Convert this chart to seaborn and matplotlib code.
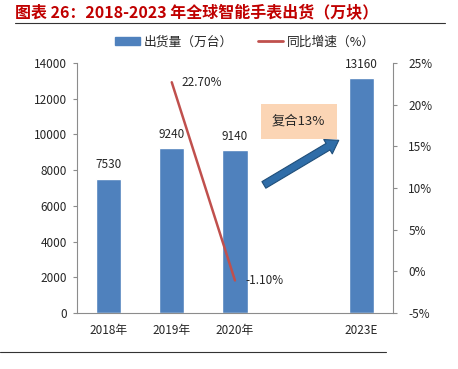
import numpy as np
import pandas as pd
import matplotlib
matplotlib.use("Agg")
import matplotlib.pyplot as plt
import seaborn as sns

categories = ["2018年", "2019年", "2020年", "", "2023E"]
shipments = [7530, 9240, 9140, np.nan, 13160]
growth_years = ["2019年", "2020年"]
growth = [22.70, -1.10]

sns.set_style("white")
plt.rcParams['font.family'] = ['Noto Sans CJK SC', 'DejaVu Sans']

blue = "#4F81BD"
red = "#C0504D"
gray = "#8C8C8C"

df = pd.DataFrame({"year": categories, "value": shipments})

fig = plt.figure(figsize=(4.58, 3.69), dpi=100)
ax = fig.add_axes([0.168, 0.152, 0.69, 0.677])

sns.barplot(data=df, x="year", y="value", order=categories, color=blue,
            width=0.4, saturation=1, ax=ax)
ax.set_xlim(-0.5, 4.5)
ax.set_ylim(0, 14000)
ax.set_yticks(range(0, 14001, 2000))
ax.set_xlabel("")
ax.set_ylabel("")
ax.tick_params(axis="y", labelsize=8.5, length=3, color=gray, pad=4)
ax.tick_params(axis="x", labelsize=8.5, length=0, pad=8)
ax.set_xticks(np.arange(-0.5, 5, 1), minor=True)
ax.tick_params(axis="x", which="minor", length=4, color=gray, direction="out")
for s in ["top", "right"]:
    ax.spines[s].set_visible(False)
for s in ["left", "bottom"]:
    ax.spines[s].set_color(gray)

for i, v in enumerate(shipments):
    if not np.isnan(v):
        ax.text(i, v + 400, f"{int(v)}", ha="center", va="bottom", fontsize=8.5)

ax2 = ax.twinx()
idx = [categories.index(y) for y in growth_years]
sns.lineplot(x=idx, y=growth, color=red, linewidth=1.8, ax=ax2)
ax2.set_ylim(-5, 25)
ax2.set_yticks(range(-5, 26, 5))
ax2.set_yticklabels([f"{t}%" for t in range(-5, 26, 5)])
ax2.tick_params(axis="y", labelsize=8.5, length=3, color=gray, pad=8)
for s in ["top", "left", "bottom"]:
    ax2.spines[s].set_visible(False)
ax2.spines["right"].set_color(gray)
for x, g in zip(idx, growth):
    ax2.text(x + 0.16, g, f"{g:.2f}%", ha="left", va="center", fontsize=8.5)

ax2.annotate("", xy=(3.68, 15.9), xytext=(2.42, 10.2),
             arrowprops=dict(arrowstyle="simple,head_width=1.2,head_length=0.9,tail_width=0.55",
                             fc="#2F6DA8", ec="#1F4E79", lw=0.8), zorder=5)
ax2.text(3.01, 18.0, "复合13%", ha="center", va="center", fontsize=9.5,
         bbox=dict(boxstyle="square,pad=0.85", fc="#FBD5B5", ec="none"))

fig.text(0.033, 0.965, "图表 26：2018-2023 年全球智能手表出货（万块）", color="#C00000",
         fontsize=11.5, fontweight="bold", ha="left", va="center")
fig.add_artist(plt.Line2D([0.033, 0.972], [0.937, 0.937], color="#333333", lw=0.8))
fig.add_artist(plt.Line2D([0.0, 0.843], [0.046, 0.046], color="#333333", lw=0.8))

handles = [plt.Rectangle((0, 0), 1, 1, color=blue), plt.Line2D([0], [0], color=red, lw=2)]
fig.legend(handles, ["出货量（万台）", "同比增速（%）"], loc="center", bbox_to_anchor=(0.535, 0.886),
           ncol=2, frameon=False, fontsize=9.2, handlelength=1.9, handleheight=0.6,
           columnspacing=2.0, handletextpad=0.3)

fig.savefig("out.png", dpi=100)
